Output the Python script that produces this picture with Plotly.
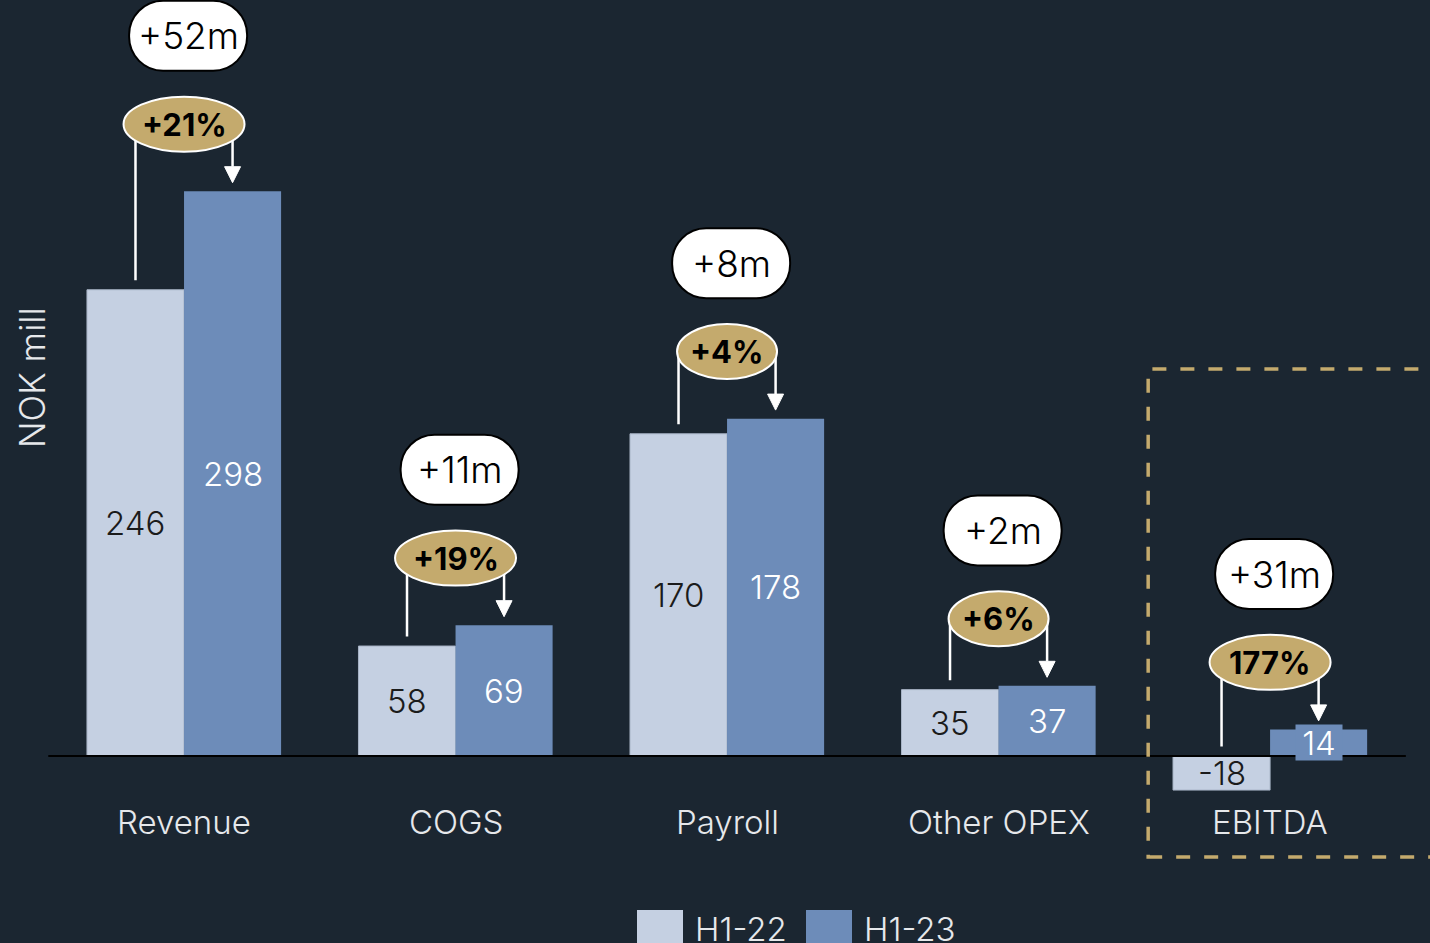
import plotly.graph_objs as go

# data (NOK mill)
categories = ['Revenue', 'COGS', 'Payroll', 'Other OPEX', 'EBITDA']
h1_22 = [246, 58, 170, 35, -18]
h1_23 = [298, 69, 178, 37, 14]
change_abs = ['+52m', '+11m', '+8m', '+2m', '+31m']
change_pct = ['+21%', '+19%', '+4%', '+6%', '177%']
series_names = ['H1-22', 'H1-23']

BG = '#1b2631'
LIGHT = '#c5d0e2'
BLUE = '#6d8cb9'
GOLD = '#c4aa6d'
FONT = 'Inter'

W, H = 1430, 943
ML = 48
X_RANGE = [-0.501, 4.589]
Y_RANGE = [-98.7, 398.9]
PX_X = (W - ML) / (X_RANGE[1] - X_RANGE[0])   # pixels per category unit
PX_Y = H / (Y_RANGE[1] - Y_RANGE[0])          # pixels per NOK mill
HALF_BAR = 0.5 * (1 - 0.285) / 2              # centre of each bar from category


def pill_path(xc, yc, w_px, h_px, r_px):
    """Rounded box path in data coords"""
    k = 0.5523
    hw, hh = w_px / 2 / PX_X, h_px / 2 / PX_Y
    rx, ry = r_px / PX_X, r_px / PX_Y
    x0, x1, y0, y1 = xc - hw, xc + hw, yc - hh, yc + hh
    p = 'M {},{} L {},{} '.format(x0 + rx, y1, x1 - rx, y1)
    p += 'C {},{} {},{} {},{} '.format(x1 - rx + k * rx, y1, x1, y1 - ry + k * ry, x1, y1 - ry)
    p += 'L {},{} '.format(x1, y0 + ry)
    p += 'C {},{} {},{} {},{} '.format(x1, y0 + ry - k * ry, x1 - rx + k * rx, y0, x1 - rx, y0)
    p += 'L {},{} '.format(x0 + rx, y0)
    p += 'C {},{} {},{} {},{} '.format(x0 + rx - k * rx, y0, x0, y0 + ry - k * ry, x0, y0 + ry)
    p += 'L {},{} '.format(x0, y1 - ry)
    p += 'C {},{} {},{} {},{} Z'.format(x0, y1 - ry + k * ry, x0 + rx - k * rx, y1, x0 + rx, y1)
    return p


fig = go.Figure()
xs = list(range(len(categories)))
fig.add_trace(go.Bar(x=xs, y=h1_22, name=series_names[0], marker=dict(color=LIGHT, line=dict(color='#a7b3c5', width=1))))
fig.add_trace(go.Bar(x=xs, y=h1_23, name=series_names[1], marker=dict(color=BLUE, line=dict(width=0))))

shapes = []
annotations = []

# zero line
shapes.append(dict(type='line', xref='x', yref='y', x0=-0.5, x1=4.5, y0=0, y1=0,
                   line=dict(color='black', width=2), layer='above'))

# dashed box around EBITDA
shapes.append(dict(type='rect', xref='x', yref='y', x0=3.551, x1=4.8, y0=-53.3, y1=204.2,
                   line=dict(color=GOLD, width=3.5, dash='14px,14px'), fillcolor='rgba(0,0,0,0)'))

for i, cat in enumerate(categories):
    a, b = h1_22[i], h1_23[i]
    top = max(a, b, 0)
    ey = top + 35.4
    py = top + 82
    xl, xr = i - HALF_BAR, i + HALF_BAR

    # connector + arrow
    tip = max(b, 0) + 4.5
    head_h = 16 / PX_Y
    head_w = 8 / PX_X
    shapes.append(dict(type='path', xref='x', yref='y',
                       path='M {},{} L {},{} L {},{} L {},{}'.format(xl, max(a, 0) + 5, xl, ey, xr, ey, xr, tip + head_h),
                       line=dict(color='white', width=2.5)))
    shapes.append(dict(type='path', xref='x', yref='y',
                       path='M {},{} L {},{} L {},{} Z'.format(xr - head_w, tip + head_h, xr + head_w, tip + head_h, xr, tip),
                       fillcolor='white', line=dict(color='white', width=1)))

    # gold ellipse with % change
    ew = (21 * len(change_pct[i]) + 37) / PX_X / 2
    eh = 55 / PX_Y / 2
    shapes.append(dict(type='circle', xref='x', yref='y', x0=i - ew, x1=i + ew, y0=ey - eh, y1=ey + eh,
                       fillcolor=GOLD, line=dict(color='white', width=2)))
    annotations.append(dict(x=i, y=ey, xref='x', yref='y', text=change_pct[i], showarrow=False,
                            font=dict(family=FONT, size=31, color='black', weight=700)))

    # white pill with absolute change
    pxc = i + 0.015
    shapes.append(dict(type='path', xref='x', yref='y', path=pill_path(pxc, py, 118, 70, 34),
                       fillcolor='white', line=dict(color='black', width=2)))
    annotations.append(dict(x=pxc, y=py, xref='x', yref='y', text=change_abs[i], showarrow=False,
                            font=dict(family=FONT, size=37, color='black', weight=300)))

    # value labels (small bars get a box in bar colour so the number reads)
    for v, xc, col, txt in [(a, xl, LIGHT, '#1b1b1b'), (b, xr, BLUE, 'white')]:
        lab = dict(x=xc, y=v / 2, xref='x', yref='y', text=str(v), showarrow=False,
                   font=dict(family=FONT, size=33, color=txt, weight=300))
        if v > 0 and v * PX_Y < 40:
            lab.update(bgcolor=col, borderpad=0, width=46, height=35)
        annotations.append(lab)

    # category label
    annotations.append(dict(x=i, y=-66 / PX_Y, xref='x', yref='y', text=cat, showarrow=False,
                            font=dict(family=FONT, size=33, color='#e6e8eb', weight=300)))

# axis title
annotations.append(dict(x=(32 - ML) / (W - ML), y=1 - 378 / H, xref='paper', yref='paper', text='NOK mill',
                        xanchor='center', yanchor='middle', textangle=-90, showarrow=False,
                        font=dict(family=FONT, size=35, color='#e6e8eb', weight=300)))

# legend drawn by hand so swatches match the big boxes
legend_x = [637, 806]
for name, col, lx in zip(series_names, [LIGHT, BLUE], legend_x):
    shapes.append(dict(type='rect', xref='paper', yref='paper',
                       x0=(lx - ML) / (W - ML), x1=(lx + 46 - ML) / (W - ML), y0=-0.02, y1=1 - 910 / H,
                       fillcolor=col, line=dict(width=0)))
    annotations.append(dict(x=(lx + 56 - ML) / (W - ML), y=1 - 929 / H, xref='paper', yref='paper', text=name,
                            xanchor='left', yanchor='middle', showarrow=False,
                            font=dict(family=FONT, size=33, color='#e6e8eb', weight=300)))

fig.update_layout(
    width=W, height=H,
    margin=dict(l=ML, r=0, t=0, b=0),
    paper_bgcolor=BG, plot_bgcolor=BG,
    barmode='group', bargap=0.285, bargroupgap=0,
    showlegend=False,
    font=dict(family=FONT, color='#e6e8eb'),
    xaxis=dict(range=X_RANGE, visible=False, fixedrange=True),
    yaxis=dict(range=Y_RANGE, visible=False, fixedrange=True),
    shapes=shapes,
    annotations=annotations,
)

fig.write_html("out.html", config={'displayModeBar': False},
               post_script="document.body.style.margin='0';")
